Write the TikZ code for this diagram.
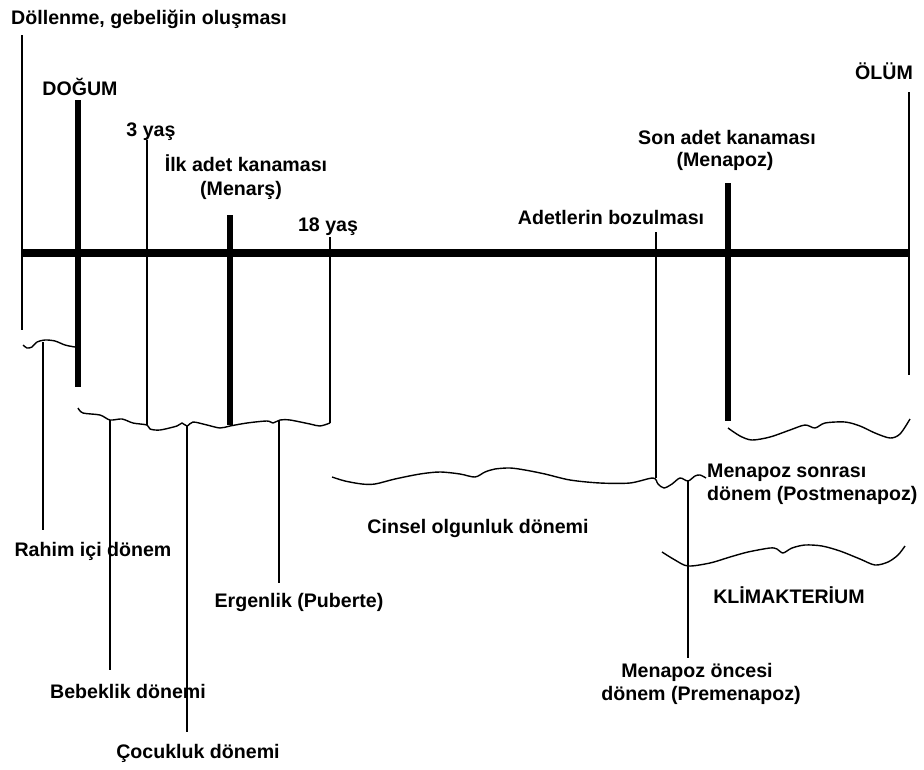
\documentclass[tikz,border=0pt]{standalone}
\usepackage{fontspec}
\setmainfont{Liberation Sans}
\begin{document}
\begin{tikzpicture}[x=1pt,y=-1pt,
  lbl/.style={font=\fontsize{19.6}{23}\selectfont\bfseries, inner sep=0pt, anchor=base},
  axisline/.style={line width=8pt},
  tickthick/.style={line width=6.5pt},
  tickthin/.style={line width=1.6pt},
  wave/.style={line width=1.4pt, line join=round},
  lead/.style={line width=1.6pt}]
\fill[white] (0,0) rectangle (924,769);
\useasboundingbox (0,0) rectangle (924,769);

% ---- labels ----
\node[lbl] (dollenme) at (149,24) {Döllenme, gebeliğin oluşması};
\node[lbl] (dogum) at (80,95) {DOĞUM};
\node[lbl] (uc) at (151,136) {3 yaş};
\node[lbl] (ilk) at (246,171) {İlk adet kanaması};
\node[lbl] (menars) at (241,195) {(Menarş)};
\node[lbl] (onsekiz) at (328,231) {18 yaş};
\node[lbl] (bozul) at (611,224) {Adetlerin bozulması};
\node[lbl] (son) at (727,144) {Son adet kanaması};
\node[lbl] (menapoz) at (725,166) {(Menapoz)};
\node[lbl] (olum) at (884,79) {ÖLÜM};
\node[lbl] (rahim) at (93,556) {Rahim içi dönem};
\node[lbl] (bebek) at (128,698) {Bebeklik dönemi};
\node[lbl] (cocuk) at (198,758) {Çocukluk dönemi};
\node[lbl] (ergen) at (299,607) {Ergenlik (Puberte)};
\node[lbl] (cinsel) at (478,533) {Cinsel olgunluk dönemi};
\node[lbl, anchor=base west] (post1) at (707,477) {Menapoz sonrası};
\node[lbl, anchor=base west] (post2) at (707,500) {dönem (Postmenapoz)};
\node[lbl] (klim) at (789,603) {KLİMAKTERİUM};
\node[lbl] (pre1) at (697,677) {Menapoz öncesi};
\node[lbl] (pre2) at (701,700) {dönem (Premenapoz)};

% ---- coordinates ----
\coordinate (axL) at (22,253);
\coordinate (axR) at (910,253);
\coordinate (dT) at (22,35);   \coordinate (dB) at (22,330);
\coordinate (bT) at (78,100);  \coordinate (bB) at (78,387);
\coordinate (yT) at (147,140); \coordinate (yB) at (147,425);
\coordinate (mT) at (230,215); \coordinate (mB) at (230,425);
\coordinate (eT) at (330,237); \coordinate (eB) at (330,423);
\coordinate (aT) at (656,232); \coordinate (aB) at (656,478);
\coordinate (nT) at (728,183); \coordinate (nB) at (728,421);
\coordinate (oT) at (909,92);  \coordinate (oB) at (909,375);

\coordinate (rT) at (43,342);  \coordinate (rB) at (43,530);
\coordinate (kT) at (110,420); \coordinate (kB) at (110,670);
\coordinate (cT) at (187,426); \coordinate (cB) at (187,732);
\coordinate (gT) at (279,421); \coordinate (gB) at (279,583);
\coordinate (pT) at (688,481); \coordinate (pB) at (688,658);

% ---- timeline ----
\draw[axisline] (axL) -- (axR);
\draw[tickthin] (dT) -- (dB);
\draw[tickthick] (bT) -- (bB);
\draw[tickthin] (yT) -- (yB);
\draw[tickthick] (mT) -- (mB);
\draw[tickthin] (eT) -- (eB);
\draw[tickthin] (aT) -- (aB);
\draw[tickthick] (nT) -- (nB);
\draw[tickthin] (oT) -- (oB);

% ---- wavy brackets ----
\draw[wave] plot[smooth, tension=0.5] coordinates {(23,345) (27,348) (32,347) (37,342) (45,340) (55,341) (65,345) (75,347) (78,347)};
\draw[wave] plot[smooth, tension=0.5] coordinates {(78,408) (83,413) (100,415) (110,420) (122,419) (133,423) (147,425) (150,429) (160,430) (177,426) (182,423) (187,426) (193,422) (207,425) (220,428) (230,426) (247,423) (267,421) (273,423) (280,420) (290,420) (310,424) (320,426) (330,423)};
\draw[wave] plot[smooth, tension=0.5] coordinates {(332,477) (345,481) (362,484) (375,484) (395,479) (420,474) (440,472) (460,474) (475,477) (485,472) (495,469) (510,468) (525,470) (545,474) (570,480) (600,483) (630,483) (653,478) (658,484) (664,488) (672,484) (680,478) (688,481) (695,476) (700,475) (706,478)};
\draw[wave] plot[smooth, tension=0.5] coordinates {(728,428) (740,436) (752,440) (770,437) (790,430) (805,425) (815,428) (825,423) (845,422) (860,426) (875,433) (890,438) (900,434) (910,419)};
\draw[wave] plot[smooth, tension=0.5] coordinates {(662,552) (675,560) (688,566) (710,563) (730,557) (748,552) (770,548) (777,549) (783,553) (792,548) (805,545) (822,546) (840,551) (860,559) (875,565) (888,562) (898,555) (905,546)};

% ---- leaders ----
\draw[lead] (rT) -- (rB);
\draw[lead] (kT) -- (kB);
\draw[lead] (cT) -- (cB);
\draw[lead] (gT) -- (gB);
\draw[lead] (pT) -- (pB);
\end{tikzpicture}
\end{document}
